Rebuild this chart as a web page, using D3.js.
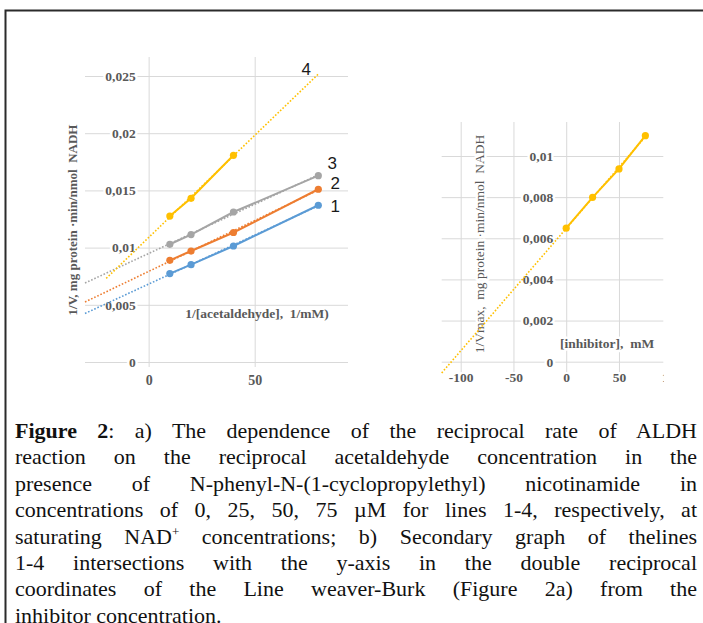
<!DOCTYPE html>
<html>
<head>
<meta charset="utf-8">
<script src="https://cdn.jsdelivr.net/npm/d3@7"></script>
<style>
  body { margin: 0; background: #fff; }
  #wrap { position: relative; width: 703px; height: 623px; overflow: hidden; }
  svg { position: absolute; left: 0; top: 0; }
  #caption { position: absolute; left: 15px; top: 418px; width: 682px;
    font-family: "Liberation Serif", serif; font-size: 22px; line-height: 26.4px; color: #111; }
  #caption div { text-align: justify; text-align-last: justify; white-space: nowrap; }
  #caption div.last { text-align-last: left; }
  #caption sup { font-size: 13px; line-height: 0; }
</style>
</head>
<body>
<div id="wrap">
<svg width="703" height="623"></svg>
<div id="caption"></div>
</div>
<script>
// chart a) - reciprocal rate vs reciprocal acetaldehyde
const acetX = [10, 20, 40, 80];
const line1 = [0.00773, 0.00851, 0.01014, 0.0137];
const line2 = [0.00889, 0.0097, 0.01132, 0.0151];
const line3 = [0.01029, 0.01114, 0.01311, 0.01629];
const line4 = [0.01276, 0.01431, 0.01807];
const lineNames = ["1", "2", "3", "4"];
const lineColors = ["#5b9bd5", "#ed7d31", "#a5a5a5", "#ffc000"];
const trendRange = [[-30, 80], [-30, 80], [-30, 80], [-20, 80]];
const aYTicks = [0, 0.005, 0.01, 0.015, 0.02, 0.025];
const aXTicks = [0, 50];

// chart b) - secondary plot
const inhibX = [0, 25, 50, 75];
const vmaxInv = [0.00649, 0.00799, 0.00937, 0.01099];
const bTrendRange = [-118, 75];
const bYTicks = [0, 0.002, 0.004, 0.006, 0.008, 0.01];
const bXTicks = [-100, -50, 0, 50, 100];

const captionLines = [
  "<b>Figure 2</b>: a) The dependence of the reciprocal rate of ALDH",
  "reaction on the reciprocal acetaldehyde concentration in the",
  "presence of N-phenyl-N-(1-cyclopropylethyl) nicotinamide in",
  "concentrations of 0, 25, 50, 75 µM for lines 1-4, respectively, at",
  "saturating NAD<sup>+</sup> concentrations; b) Secondary graph of thelines",
  "1-4 intersections with the y-axis in the double reciprocal",
  "coordinates of the Line weaver-Burk (Figure 2a) from the",
  "inhibitor concentration."
];

const fmt = d => d === 0 ? "0" : String(d).replace(".", ",");
const grid = "#d9d9d9", labelCol = "#595959";
const serif = "'Liberation Serif', serif";

function fit(xs, ys) {
  const mx = d3.mean(xs), my = d3.mean(ys);
  let sxy = 0, sxx = 0;
  xs.forEach((x, i) => { sxy += (x - mx) * (ys[i] - my); sxx += (x - mx) * (x - mx); });
  const k = sxy / sxx;
  return x => my + k * (x - mx);
}

function halo(sel) {
  sel.attr("paint-order", "stroke").attr("stroke", "#fff")
     .attr("stroke-width", 5).attr("stroke-linejoin", "round");
}

const svg = d3.select("svg");

// frame
svg.append("path").attr("d", "M5.5,730 V10.5 H720")
   .attr("fill", "none").attr("stroke", "#2b2b2b").attr("stroke-width", 2);

// ---------- chart a ----------
const ax = d3.scaleLinear().domain([-30, 94]).range([85, 348]);
const ay = d3.scaleLinear().domain([0, 0.025]).range([362, 76]);
const aBottom = 367, aTop = 57;

const gA = svg.append("g");

gA.append("g")
  .attr("transform", `translate(0,${aBottom})`)
  .call(d3.axisBottom(ax).tickValues(aXTicks).tickSize(-(aBottom - aTop)).tickFormat(fmt))
  .call(g => g.select(".domain").remove())
  .call(g => g.selectAll("line").attr("stroke", grid))
  .call(g => g.selectAll("text").attr("y", 18).attr("dy", 0)
     .attr("fill", labelCol).attr("font-family", serif).attr("font-size", 14).attr("font-weight", "bold"));

gA.append("g")
  .attr("transform", `translate(85,0)`)
  .call(d3.axisRight(ay).tickValues(aYTicks).tickSize(263).tickFormat(fmt))
  .call(g => g.select(".domain").remove())
  .call(g => g.selectAll("line").attr("stroke", grid))
  .call(g => g.selectAll("text").attr("x", ax(0) - 85 - 13).attr("text-anchor", "end")
     .attr("fill", labelCol).attr("font-family", serif).attr("font-size", 13.5).attr("font-weight", "bold")
     .call(halo));

gA.append("text")
  .attr("transform", `translate(77,220) rotate(-90)`)
  .attr("text-anchor", "middle")
  .attr("fill", labelCol).attr("font-family", serif).attr("font-size", 13).attr("font-weight", "bold")
  .attr("xml:space", "preserve")
  .text("1/V, mg protein \u00b7min/nmol  NADH")
  .call(halo);

gA.append("text")
  .attr("x", 257).attr("y", 318).attr("text-anchor", "middle")
  .attr("fill", labelCol).attr("font-family", serif).attr("font-size", 13.5).attr("font-weight", "bold")
  .attr("xml:space", "preserve")
  .text("1/[acetaldehyde],  1/mM)");

const aSeries = [line1, line2, line3, line4].map((ys, i) => ({
  name: lineNames[i], color: lineColors[i], range: trendRange[i],
  pts: ys.map((y, j) => [acetX[j], y])
}));

const lineGen = d3.line().x(d => ax(d[0])).y(d => ay(d[1]));

// trend lines
aSeries.forEach(s => {
  const f = fit(s.pts.map(p => p[0]), s.pts.map(p => p[1]));
  gA.append("path")
    .attr("d", lineGen(s.range.map(x => [x, f(x)])))
    .attr("fill", "none").attr("stroke", s.color).attr("stroke-width", 1.6)
    .attr("stroke-dasharray", "1.6,1.8");
});

aSeries.forEach(s => {
  gA.append("path").attr("d", lineGen(s.pts))
    .attr("fill", "none").attr("stroke", s.color).attr("stroke-width", 2);
  gA.selectAll(null).data(s.pts).join("circle")
    .attr("cx", d => ax(d[0])).attr("cy", d => ay(d[1])).attr("r", 3.6)
    .attr("fill", s.color);
});

// line numbers
const numOffset = [[17, 7], [17, 0], [14, -7], [-12, 1]];
aSeries.forEach((s, i) => {
  const last = s.pts[s.pts.length - 1];
  const f = fit(s.pts.map(p => p[0]), s.pts.map(p => p[1]));
  const px = i === 3 ? ax(s.range[1]) : ax(last[0]);
  const py = i === 3 ? ay(f(s.range[1])) : ay(last[1]);
  gA.append("text")
    .attr("x", px + numOffset[i][0]).attr("y", py + numOffset[i][1])
    .attr("text-anchor", "middle")
    .attr("font-family", "'Liberation Sans', Arial, sans-serif").attr("font-size", 17)
    .attr("fill", "#1a1a1a").text(s.name);
});

// ---------- chart b ----------
const bx = d3.scaleLinear().domain([-118, 92]).range([441.7, 663.3]);
const by = d3.scaleLinear().domain([0, 0.01]).range([361.7, 156]);
const bBottom = 372, bTop = 122;

svg.append("clipPath").attr("id", "clipB")
   .append("rect").attr("x", 400).attr("y", 100).attr("width", 264).attr("height", 300);

const gB = svg.append("g").attr("clip-path", "url(#clipB)");

gB.append("g")
  .attr("transform", `translate(0,${bBottom})`)
  .call(d3.axisBottom(bx).tickValues(bXTicks).tickSize(-(bBottom - bTop)).tickFormat(d => String(d)))
  .call(g => g.select(".domain").remove())
  .call(g => g.selectAll("line").attr("stroke", grid))
  .call(g => g.selectAll("text").attr("y", 10).attr("dy", 0)
     .attr("fill", labelCol).attr("font-family", serif).attr("font-size", 13.5).attr("font-weight", "bold"));

gB.append("g")
  .attr("transform", `translate(441.7,0)`)
  .call(d3.axisRight(by).tickValues(bYTicks).tickSize(221.6).tickFormat(fmt))
  .call(g => g.select(".domain").remove())
  .call(g => g.selectAll("line").attr("stroke", grid))
  .call(g => g.selectAll("text").attr("x", bx(0) - 441.7 - 13).attr("text-anchor", "end")
     .attr("fill", labelCol).attr("font-family", serif).attr("font-size", 13.5).attr("font-weight", "bold")
     .call(halo));

gB.append("text")
  .attr("transform", `translate(484,244) rotate(-90)`)
  .attr("text-anchor", "middle")
  .attr("fill", labelCol).attr("font-family", serif).attr("font-size", 13.5)
  .attr("xml:space", "preserve")
  .text("1/Vmax,  mg protein \u00b7min/nmol  NADH")
  .call(halo);

gB.append("text")
  .attr("x", 560).attr("y", 348)
  .attr("fill", labelCol).attr("font-family", serif).attr("font-size", 13.5).attr("font-weight", "bold")
  .attr("xml:space", "preserve")
  .text("[inhibitor],  mM")
  .call(halo);

const bPts = inhibX.map((x, i) => [x, vmaxInv[i]]);
const bLine = d3.line().x(d => bx(d[0])).y(d => by(d[1]));
const fb = fit(inhibX, vmaxInv);

gB.append("path")
  .attr("d", bLine(bTrendRange.map(x => [x, fb(x)])))
  .attr("fill", "none").attr("stroke", "#ffc000").attr("stroke-width", 1.6)
  .attr("stroke-dasharray", "1.6,1.8");

gB.append("path").attr("d", bLine(bPts))
  .attr("fill", "none").attr("stroke", "#ffc000").attr("stroke-width", 2);

gB.selectAll("circle").data(bPts).join("circle")
  .attr("cx", d => bx(d[0])).attr("cy", d => by(d[1])).attr("r", 3.6)
  .attr("fill", "#ffc000");

// ---------- caption ----------
d3.select("#caption").selectAll("div").data(captionLines).join("div")
  .attr("class", (d, i) => i === captionLines.length - 1 ? "last" : null)
  .html(d => d);
</script>
</body>
</html>
